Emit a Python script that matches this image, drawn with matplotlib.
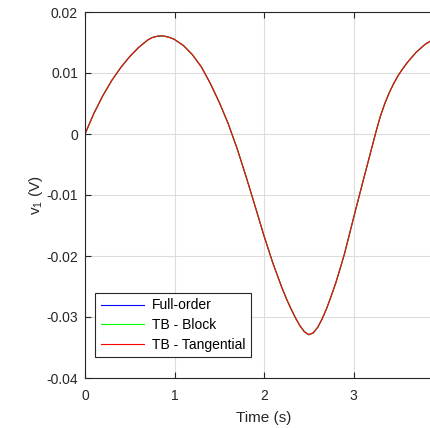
import numpy as np
import matplotlib
matplotlib.use("Agg")
import matplotlib.pyplot as plt

plt.rcParams['font.family'] = ['Liberation Sans', 'DejaVu Sans']
plt.rcParams['mathtext.fontset'] = 'custom'
plt.rcParams['mathtext.rm'] = 'Liberation Sans'
plt.rcParams['mathtext.it'] = 'Liberation Sans'

# time samples (s) and v1 (V)
t = [0.0, 0.1, 0.2, 0.3, 0.4, 0.5, 0.6, 0.7, 0.75, 0.8, 0.85, 0.9, 0.95,
     1.0, 1.1, 1.2, 1.3, 1.4, 1.5, 1.6, 1.7, 1.8, 1.9,
     2.0, 2.1, 2.2, 2.25, 2.3, 2.35, 2.4, 2.45, 2.5, 2.55, 2.6, 2.65, 2.7, 2.75, 2.8, 2.85, 2.9,
     3.0, 3.1, 3.2, 3.25, 3.3, 3.35, 3.4, 3.45, 3.5, 3.55, 3.6, 3.7, 3.8, 3.9]
v_full = [0.0, 0.0034, 0.0063, 0.0088, 0.0109, 0.0127, 0.0142, 0.0154, 0.0158, 0.0160, 0.0161, 0.0160, 0.0158,
          0.0155, 0.0145, 0.0130, 0.0110, 0.0083, 0.0052, 0.0017, -0.0024, -0.0070, -0.0118,
          -0.0167, -0.0212, -0.0252, -0.0270, -0.0286, -0.0301, -0.0314, -0.0324, -0.0329, -0.0326, -0.0317, -0.0303, -0.0286, -0.0266, -0.0245, -0.0221, -0.0196,
          -0.0138, -0.0081, -0.0025, 0.0003, 0.0029, 0.0050, 0.0068, 0.0083, 0.0096, 0.0107, 0.0117, 0.0134, 0.0147, 0.0156]
# reduced models overlay the full-order response
v_block = v_full
v_tang = v_full

labels = ["Full-order", "TB - Block", "TB - Tangential"]
colors = ["#0000ff", "#00ff00", "#ff0000"]

fig = plt.figure(figsize=(4.3, 4.28), dpi=100)
ax = fig.add_axes([85/430, 50/428, 358/430, 366/428])

for v, lab, c in zip([v_full, v_block, v_tang], labels, colors):
    ax.plot(t, v, color=c, lw=0.8, label=lab)

ax.set_xlim(0, 4)
ax.set_ylim(-0.04, 0.02)
ax.set_xticks([0, 1, 2, 3, 4])
ax.set_xticklabels(["0", "1", "2", "3", ""])
ax.set_yticks([-0.04, -0.03, -0.02, -0.01, 0, 0.01, 0.02])
ax.set_yticklabels(["-0.04", "-0.03", "-0.02", "-0.01", "0", "0.01", "0.02"])
ax.grid(True, color="#dcdcdc", lw=0.8)
ax.set_axisbelow(True)
ax.tick_params(direction="in", top=True, right=True, length=4, width=0.8,
               colors="#262626", labelsize=10, pad=5)
ax.tick_params(axis="x", pad=8)
for s in ax.spines.values():
    s.set_color("#262626")
    s.set_linewidth(0.8)

ax.set_xlabel("Time (s)", fontsize=11, color="#262626", labelpad=6)
ax.set_ylabel("v$_1$ (V)", fontsize=11, color="#262626", labelpad=1)

leg = ax.legend(loc="lower left", bbox_to_anchor=(0.028, 0.057), borderaxespad=0,
                fontsize=10, handlelength=3.1, handletextpad=0.6, labelspacing=0.4,
                fancybox=False, framealpha=1, borderpad=0.4)
leg.get_frame().set_edgecolor("#262626")
leg.get_frame().set_linewidth(0.8)

fig.savefig("out.png", dpi=100)
